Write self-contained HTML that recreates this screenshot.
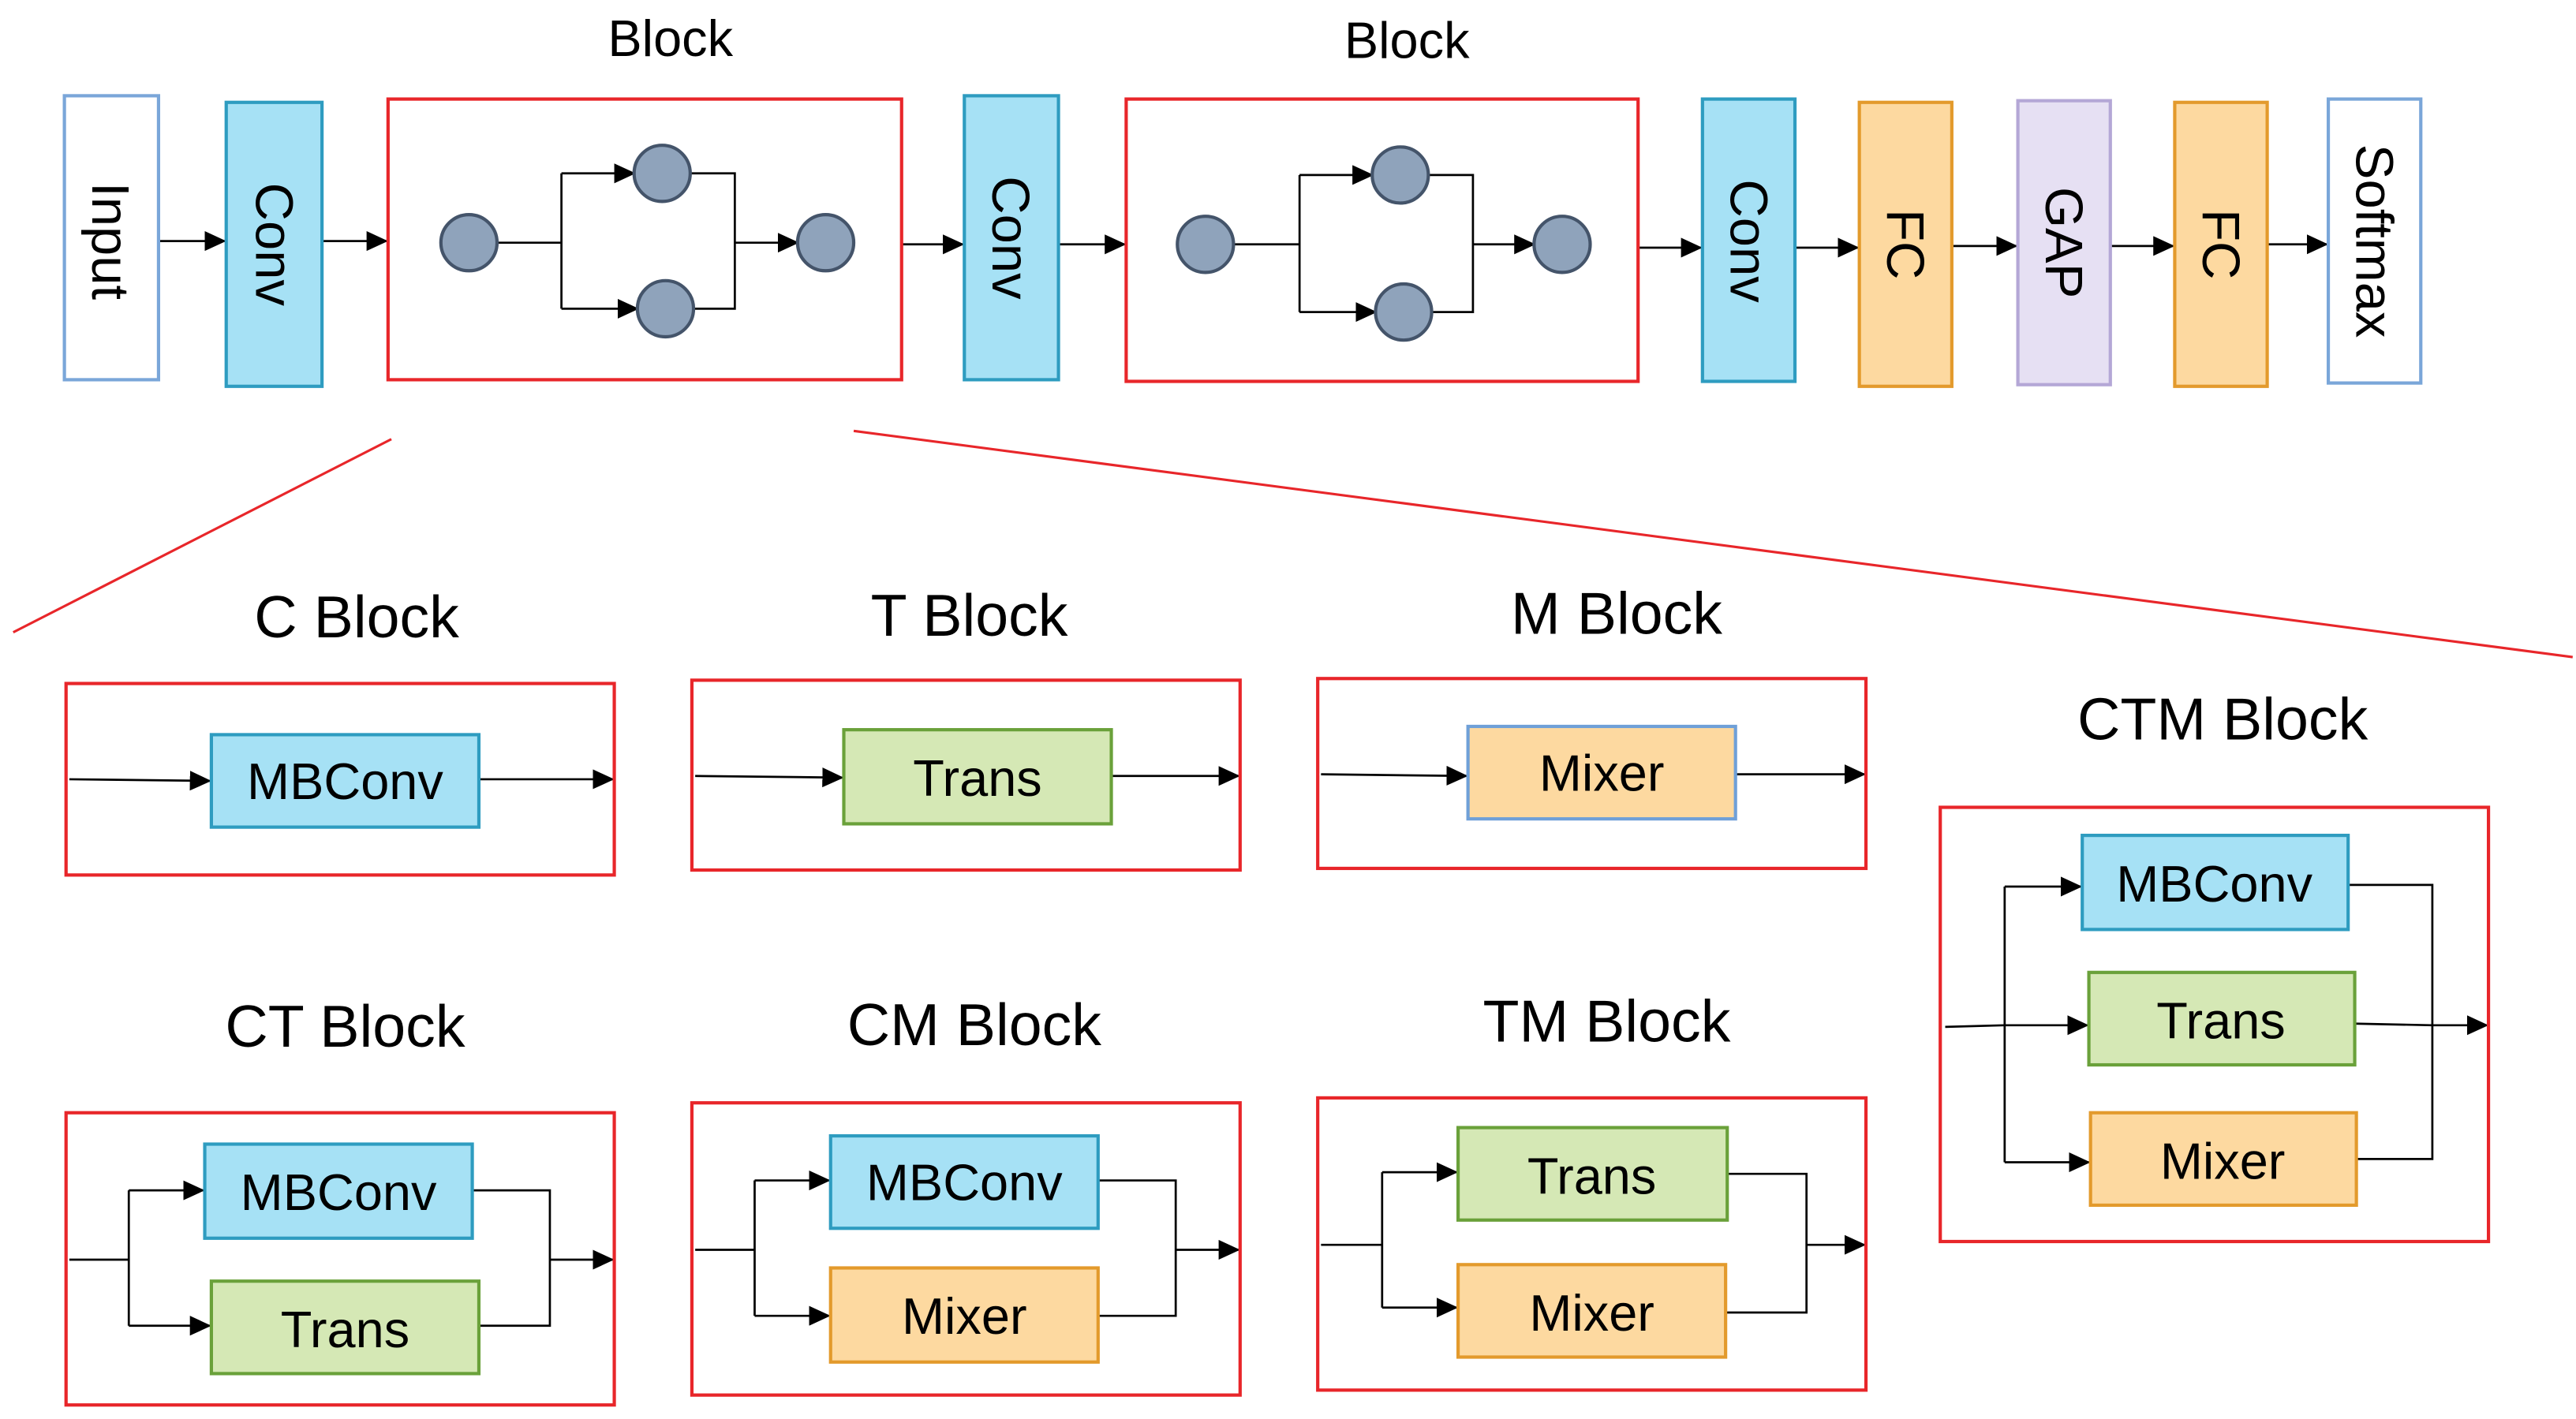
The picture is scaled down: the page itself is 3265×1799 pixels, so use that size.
<!DOCTYPE html>
<html><head><meta charset="utf-8"><style>
html,body{margin:0;padding:0;background:#fff;width:3265px;height:1799px;overflow:hidden}
svg{display:block}
text{font-family:"Liberation Sans",Arial,sans-serif;fill:#000}
</style></head><body>
<svg width="3265" height="1799" viewBox="0 0 1560 859.5" preserveAspectRatio="none" xmlns="http://www.w3.org/2000/svg">
<defs>
<marker id="a" markerWidth="13" markerHeight="12" refX="12" refY="6" orient="auto" markerUnits="userSpaceOnUse"><path d="M0,0 L13,6 L0,12 z" fill="#000"/></marker>
</defs>
<g stroke="#000" stroke-width="1.3" fill="none" marker-end="url(#a)">
<line x1="96" y1="146" x2="136" y2="146"/>
<line x1="195" y1="146" x2="234" y2="146"/>
<line x1="546" y1="148" x2="583" y2="148"/>
<line x1="641" y1="148" x2="681" y2="148"/>
<line x1="992" y1="150" x2="1030" y2="150"/>
<line x1="1087" y1="150" x2="1125" y2="150"/>
<line x1="1182" y1="149" x2="1221" y2="149"/>
<line x1="1278" y1="149" x2="1316" y2="149"/>
<line x1="1373" y1="148" x2="1409" y2="148"/>
<line x1="340" y1="105" x2="384" y2="105"/>
<line x1="340" y1="187" x2="386" y2="187"/>
<line x1="445" y1="147" x2="483" y2="147"/>
<line x1="787" y1="106" x2="831" y2="106"/>
<line x1="787" y1="189" x2="833" y2="189"/>
<line x1="892" y1="148" x2="929" y2="148"/>
<line x1="42" y1="472" x2="127" y2="473"/>
<line x1="290" y1="472" x2="371" y2="472"/>
<line x1="421" y1="470" x2="510" y2="471"/>
<line x1="673" y1="470" x2="750" y2="470"/>
<line x1="800" y1="469" x2="888" y2="470"/>
<line x1="1051" y1="469" x2="1129" y2="469"/>
<line x1="78" y1="721" x2="123" y2="721"/>
<line x1="78" y1="803" x2="127" y2="803"/>
<line x1="333" y1="763" x2="371" y2="763"/>
<line x1="457" y1="715" x2="502" y2="715"/>
<line x1="457" y1="797" x2="502" y2="797"/>
<line x1="712" y1="757" x2="750" y2="757"/>
<line x1="837" y1="710" x2="882" y2="710"/>
<line x1="837" y1="792" x2="882" y2="792"/>
<line x1="1094" y1="754" x2="1129" y2="754"/>
<line x1="1214" y1="537" x2="1260" y2="537"/>
<line x1="1214" y1="621" x2="1264" y2="621"/>
<line x1="1214" y1="704" x2="1265" y2="704"/>
<line x1="1473" y1="621" x2="1506" y2="621"/>
</g>
<g stroke="#000" stroke-width="1.3" fill="none">
<polyline points="301,147 340,147"/><line x1="340" y1="105" x2="340" y2="187"/>
<polyline points="418,105 445,105 445,187 420,187"/>
<polyline points="747,148 787,148"/><line x1="787" y1="106" x2="787" y2="189"/>
<polyline points="865,106 892,106 892,189 867,189"/>
<line x1="42" y1="763" x2="78" y2="763"/><line x1="78" y1="721" x2="78" y2="803"/>
<polyline points="286,721 333,721 333,803 290,803"/>
<line x1="421" y1="757" x2="457" y2="757"/><line x1="457" y1="715" x2="457" y2="797"/>
<polyline points="665,715 712,715 712,797 665,797"/>
<line x1="800" y1="754" x2="837" y2="754"/><line x1="837" y1="710" x2="837" y2="792"/>
<polyline points="1046,711 1094,711 1094,795 1045,795"/>
<line x1="1178" y1="622" x2="1214" y2="621"/><line x1="1214" y1="537" x2="1214" y2="704"/>
<polyline points="1422,536 1473,536 1473,702 1427,702"/>
<line x1="1426" y1="620" x2="1473" y2="621"/>
</g>
<line x1="237" y1="266" x2="8" y2="383" stroke="#e8262a" stroke-width="1.5"/>
<line x1="517" y1="261" x2="1558" y2="398" stroke="#e8262a" stroke-width="1.5"/>
<g fill="none" stroke="#e8262a" stroke-width="2">
<rect x="235" y="60" width="311" height="170"/>
<rect x="682" y="60" width="310" height="171"/>
<rect x="40" y="414" width="332" height="116"/>
<rect x="419" y="412" width="332" height="115"/>
<rect x="798" y="411" width="332" height="115"/>
<rect x="1175" y="489" width="332" height="263"/>
<rect x="40" y="674" width="332" height="177"/>
<rect x="419" y="668" width="332" height="177"/>
<rect x="798" y="665" width="332" height="177"/>
</g>
<g stroke-width="2">
<rect x="39" y="58" width="57" height="172" fill="#fff" stroke="#7aa6d9"/>
<rect x="137" y="62" width="58" height="172" fill="#a6e1f5" stroke="#2e9cc0"/>
<rect x="584" y="58" width="57" height="172" fill="#a6e1f5" stroke="#2e9cc0"/>
<rect x="1031" y="60" width="56" height="171" fill="#a6e1f5" stroke="#2e9cc0"/>
<rect x="1126" y="62" width="56" height="172" fill="#fdd9a0" stroke="#e39a2c"/>
<rect x="1222" y="61" width="56" height="172" fill="#e6e0f3" stroke="#b4a7d6"/>
<rect x="1317" y="62" width="56" height="172" fill="#fdd9a0" stroke="#e39a2c"/>
<rect x="1410" y="60" width="56" height="172" fill="#fff" stroke="#7aa6d9"/>
</g>
<g font-size="32" text-anchor="middle">
<text transform="translate(56,146) rotate(90)">Input</text>
<text transform="translate(155,148) rotate(90)">Conv</text>
<text transform="translate(601,144) rotate(90)">Conv</text>
<text transform="translate(1048,146) rotate(90)">Conv</text>
<text transform="translate(1143,148) rotate(90)">FC</text>
<text transform="translate(1239,147) rotate(90)">GAP</text>
<text transform="translate(1334,148) rotate(90)">FC</text>
<text transform="translate(1427,146) rotate(90)">Softmax</text>
</g>
<g font-size="31" text-anchor="middle">
<text x="406" y="34">Block</text>
<text x="852" y="35">Block</text>
</g>
<g fill="#8fa3bb" stroke="#44546a" stroke-width="2">
<circle cx="284" cy="147" r="17"/><circle cx="401" cy="105" r="17"/><circle cx="403" cy="187" r="17"/><circle cx="500" cy="147" r="17"/>
<circle cx="730" cy="148" r="17"/><circle cx="848" cy="106" r="17"/><circle cx="850" cy="189" r="17"/><circle cx="946" cy="148" r="17"/>
</g>
<g stroke-width="2">
<g fill="#a6e1f5" stroke="#2e9cc0">
<rect x="128" y="445" width="162" height="56"/>
<rect x="1261" y="506" width="161" height="57"/>
<rect x="124" y="693" width="162" height="57"/>
<rect x="503" y="688" width="162" height="56"/>
</g>
<g fill="#d5e8b5" stroke="#6aa13a">
<rect x="511" y="442" width="162" height="57"/>
<rect x="1265" y="589" width="161" height="56"/>
<rect x="128" y="776" width="162" height="56"/>
<rect x="883" y="683" width="163" height="56"/>
</g>
<g fill="#fdd9a0" stroke="#e39a2c">
<rect x="1266" y="674" width="161" height="56"/>
<rect x="503" y="768" width="162" height="57"/>
<rect x="883" y="766" width="162" height="56"/>
</g>
<rect x="889" y="440" width="162" height="56" fill="#fdd9a0" stroke="#6fa0d8"/>
</g>
<g font-size="31" text-anchor="middle">
<text x="209" y="484">MBConv</text>
<text x="592" y="482">Trans</text>
<text x="970" y="479">Mixer</text>
<text x="1341" y="546">MBConv</text>
<text x="1345" y="629">Trans</text>
<text x="1346" y="714">Mixer</text>
<text x="205" y="733">MBConv</text>
<text x="209" y="816">Trans</text>
<text x="584" y="727">MBConv</text>
<text x="584" y="808">Mixer</text>
<text x="964" y="723">Trans</text>
<text x="964" y="806">Mixer</text>
</g>
<g font-size="36" text-anchor="middle">
<text x="216" y="386">C Block</text>
<text x="587" y="385">T Block</text>
<text x="979" y="384">M Block</text>
<text x="1346" y="448">CTM Block</text>
<text x="209" y="634">CT Block</text>
<text x="590" y="633">CM Block</text>
<text x="973" y="631">TM Block</text>
</g>
</svg>
</body></html>
